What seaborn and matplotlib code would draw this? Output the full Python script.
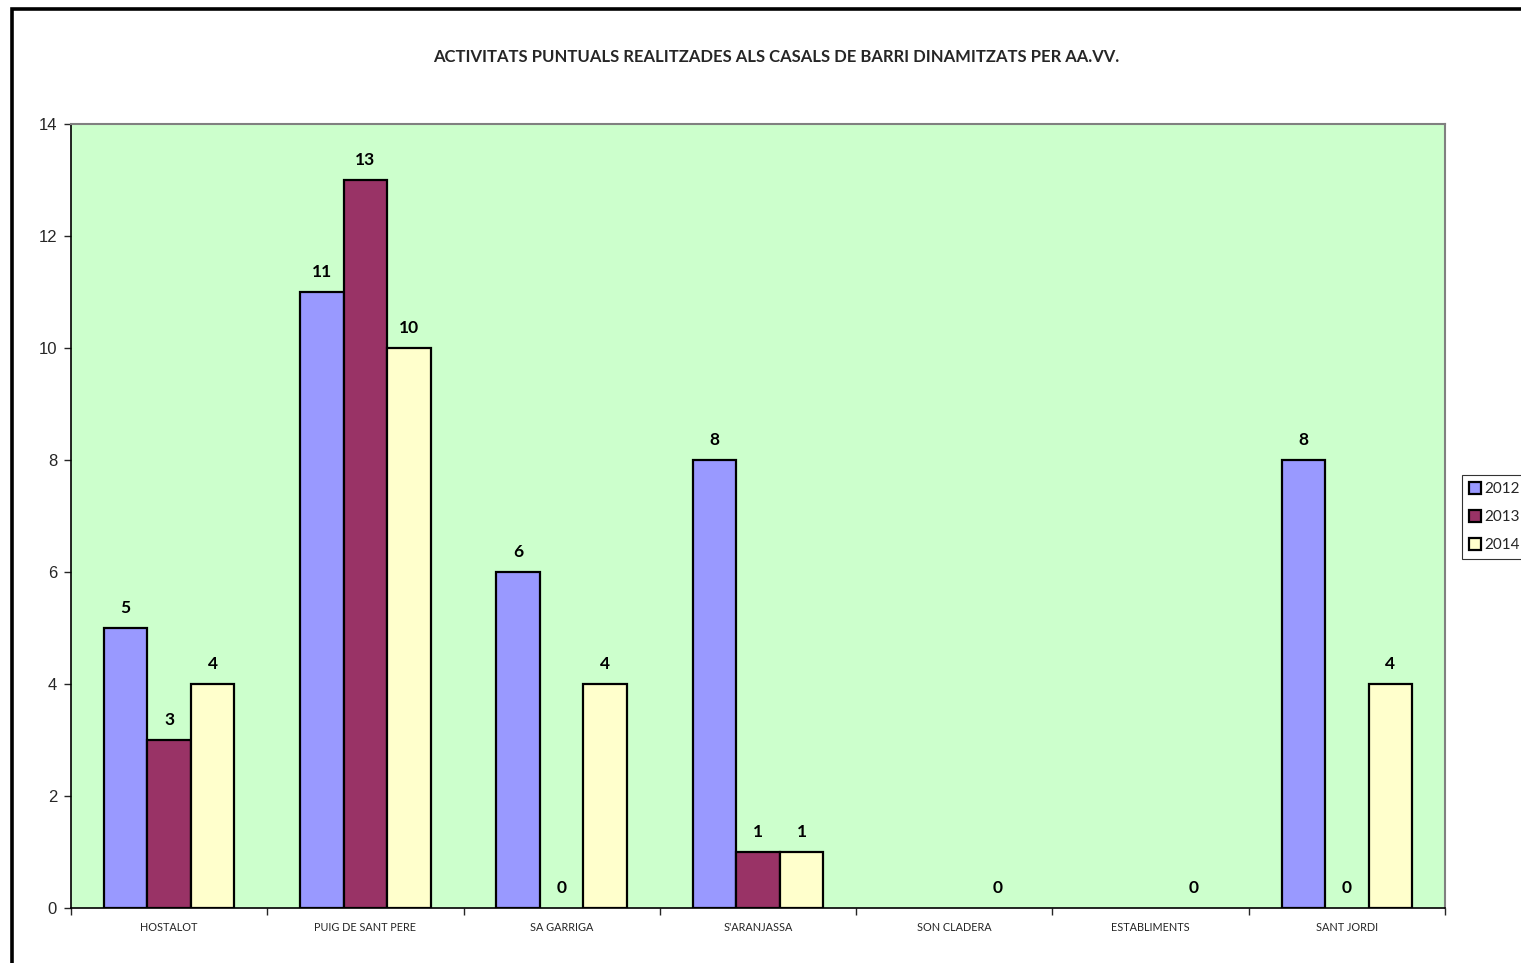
import numpy as np
import pandas as pd
import matplotlib
matplotlib.use("Agg")
import matplotlib.pyplot as plt
from matplotlib.patches import Rectangle
import seaborn as sns

categories = ["HOSTALOT", "PUIG DE SANT PERE", "SA GARRIGA", "S'ARANJASSA",
              "SON CLADERA", "ESTABLIMENTS", "SANT JORDI"]
years = ["2012", "2013", "2014"]
v2012 = [5, 11, 6, 8, np.nan, np.nan, 8]
v2013 = [3, 13, 0, 1, np.nan, np.nan, 0]
v2014 = [4, 10, 4, 1, 0, 0, 4]
colors = ["#9999FF", "#993366", "#FFFFCC"]
title = "ACTIVITATS PUNTUALS REALITZADES ALS CASALS DE BARRI DINAMITZATS PER AA.VV."

rows = []
for yr, vals in zip(years, [v2012, v2013, v2014]):
    for c, v in zip(categories, vals):
        rows.append({"cat": c, "year": yr, "value": v})
df = pd.DataFrame(rows)

sns.set_style("white")
plt.rcParams["font.family"] = ["Lato", "DejaVu Sans"]

fig = plt.figure(figsize=(15.21, 9.63), dpi=100)
ax = fig.add_axes([71/1521, 1-908/963, (1445-71)/1521, (908-124)/963])
ax.set_facecolor("#CCFFCC")

sns.barplot(data=df, x="cat", y="value", hue="year", order=categories,
            hue_order=years, palette=colors, edgecolor="black", linewidth=1.6,
            width=0.665, saturation=1, errorbar=None, ax=ax, legend=True)

for cont in ax.containers:
    labels = []
    for bar in cont:
        h = bar.get_height()
        labels.append("" if np.isnan(h) else f"{h:g}")
        if not np.isnan(h) and h == 0:
            bar.set_linewidth(0)
    ax.bar_label(cont, labels=labels, padding=8.5, fontsize=12.5,
                 fontweight="bold", color="black")

ax.set_ylim(0, 14)
ax.set_xlim(-0.5, len(categories) - 0.5)
ax.set_yticks(range(0, 15, 2))
ax.tick_params(axis="y", which="major", direction="out", length=5, width=1,
               left=True, labelsize=12, pad=5)
for t in ax.get_yticklabels():
    t.set_fontfamily(["Liberation Sans"])
ax.set_xticks(np.arange(-0.5, len(categories), 1.0))
ax.set_xticklabels([])
ax.tick_params(axis="x", which="major", direction="out", length=5, width=1,
               bottom=True)
ax.set_xticks(range(len(categories)), minor=True)
ax.set_xticklabels(categories, minor=True, fontsize=7.8)
ax.tick_params(axis="x", which="minor", length=0, pad=10)
ax.set_xlabel("")
ax.set_ylabel("")
ax.grid(False)

for s in ["left", "bottom"]:
    ax.spines[s].set_color("black")
    ax.spines[s].set_linewidth(1.2)
for s in ["top", "right"]:
    ax.spines[s].set_color("#808080")
    ax.spines[s].set_linewidth(1.5)
    ax.spines[s].set_visible(True)

leg = ax.legend(loc="center left", bbox_to_anchor=(1462/1521, 1-517/963),
                bbox_transform=fig.transFigure, frameon=True, fancybox=False,
                edgecolor="black", fontsize=11, handlelength=0.8,
                handleheight=0.8, handletextpad=0.2, labelspacing=0.9,
                borderpad=0.45, borderaxespad=0)
leg.get_frame().set_linewidth(0.8)

fig.text(776/1521, 1-57/963, title, ha="center", va="center",
         fontsize=12, fontweight="bold")

fig.patches.append(Rectangle((12/1521, -0.1), 1.2, 1.1 - 9.5/963,
                             transform=fig.transFigure, fill=False,
                             edgecolor="black", linewidth=2.6, clip_on=False))

fig.savefig("out.png", dpi=100)
